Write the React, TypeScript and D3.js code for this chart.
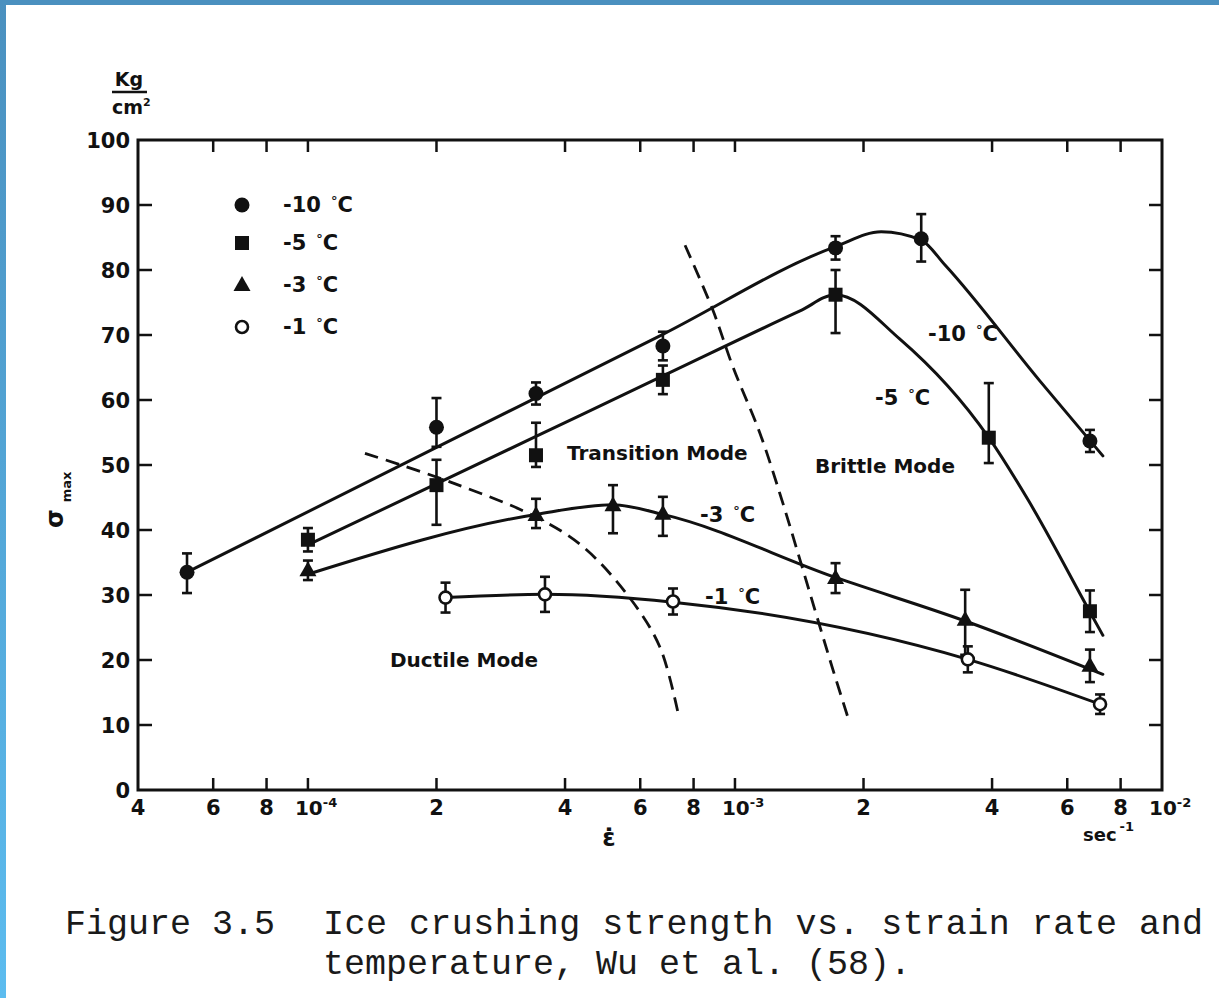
import React from "react";
import * as d3 from "d3";

const WIDTH = 1219;
const HEIGHT = 998;

// Axis ticks
const rateTicks = [4e-5, 6e-5, 8e-5, 1e-4, 2e-4, 4e-4, 6e-4, 8e-4, 1e-3, 2e-3, 4e-3, 6e-3, 8e-3, 1e-2];
const rateTickMantissa = ["4", "6", "8", "10", "2", "4", "6", "8", "10", "2", "4", "6", "8", "10"];
const rateTickExponent = ["", "", "", "-4", "", "", "", "", "-3", "", "", "", "", "-2"];
const stressTicks = [0, 10, 20, 30, 40, 50, 60, 70, 80, 90, 100];

// Measured peak stress (kg/cm²) vs strain rate (1/s), with error bars
const tempLabels = ["-10", "-5", "-3", "-1"];

const rateM10 = [5.21e-5, 2.0e-4, 3.42e-4, 6.78e-4, 1.72e-3, 2.73e-3, 6.78e-3];
const stressM10 = [33.5, 55.8, 61, 68.3, 83.4, 84.8, 53.7];
const errHiM10 = [2.9, 4.5, 1.7, 2.2, 1.8, 3.8, 1.7];
const errLoM10 = [3.2, 3.0, 1.7, 2.2, 1.8, 3.5, 1.7];

const rateM5 = [1e-4, 2e-4, 3.42e-4, 6.78e-4, 1.72e-3, 3.93e-3, 6.78e-3];
const stressM5 = [38.5, 46.9, 51.5, 63.1, 76.2, 54.2, 27.5];
const errHiM5 = [1.8, 3.9, 5.0, 2.2, 3.8, 8.4, 3.2];
const errLoM5 = [1.8, 6.1, 1.8, 2.2, 5.9, 3.9, 3.2];

const rateM3 = [1e-4, 3.42e-4, 5.18e-4, 6.78e-4, 1.72e-3, 3.46e-3, 6.78e-3];
const stressM3 = [33.8, 42.3, 43.8, 42.5, 32.6, 26.2, 19.1];
const errHiM3 = [1.5, 2.5, 3.1, 2.6, 2.3, 4.6, 2.5];
const errLoM3 = [1.5, 2.0, 4.3, 3.4, 2.3, 5.4, 2.5];

const rateM1 = [2.1e-4, 3.59e-4, 7.16e-4, 3.51e-3, 7.16e-3];
const stressM1 = [29.6, 30.1, 29.0, 20.1, 13.2];
const errHiM1 = [2.3, 2.7, 2.0, 2.0, 1.5];
const errLoM1 = [2.3, 2.7, 2.0, 2.0, 1.5];

// Faired curves through each temperature's data
const fitRateM10 = [5.21e-5, 2e-4, 6.78e-4, 1.72e-3, 2.2e-3, 2.73e-3, 3.1e-3, 5.18e-3, 7.27e-3];
const fitStressM10 = [33.5, 52.7, 70.1, 83.6, 85.9, 84.6, 80.8, 62.9, 51.4];

const fitRateM5 = [1e-4, 3.42e-4, 6.78e-4, 1.42e-3, 1.72e-3, 2.43e-3, 3.93e-3, 4.86e-3, 6.78e-3, 7.27e-3];
const fitStressM5 = [37.7, 54.4, 63.7, 73.7, 76.2, 69.4, 54.2, 44.6, 27.4, 23.8];

const fitRateM3 = [1e-4, 3.42e-4, 5.18e-4, 6.78e-4, 1.72e-3, 3.46e-3, 7.27e-3];
const fitStressM3 = [33.2, 42.4, 43.9, 42.4, 32.7, 26.0, 17.8];

const fitRateM1 = [2.1e-4, 3.59e-4, 7.16e-4, 3.51e-3, 7.16e-3];
const fitStressM1 = [29.6, 30.1, 28.9, 20.1, 13.2];

// Failure-mode boundaries
const ductileRate = [1.36e-4, 2.15e-4, 3.42e-4, 4.41e-4, 5.68e-4, 6.67e-4, 7.36e-4];
const ductileStress = [51.8, 47.4, 42, 37.4, 29.5, 22, 11.8];
const brittleRate = [7.64e-4, 8.88e-4, 9.89e-4, 1.144e-3, 1.288e-3, 1.42e-3, 1.669e-3, 1.84e-3];
const brittleStress = [83.8, 73.8, 65.1, 54.9, 44.6, 35.4, 20, 11.1];

const INK = "#111";
const LABEL_FONT = "'DejaVu Sans', Verdana, sans-serif";

const x = d3.scaleLog().domain([4e-5, 1e-2]).range([138, 1162]);
const y = d3.scaleLinear().domain([0, 100]).range([790, 140]);

const zip = (a: number[], b: number[]) => a.map((v, i) => [v, b[i]] as [number, number]);

// solid temperature curves: monotone cubic keeps straight runs straight
const fairCurve = d3
  .line<[number, number]>()
  .x((d) => x(d[0]))
  .y((d) => y(d[1]))
  .curve(d3.curveMonotoneX);

// dashed mode boundaries
const boundaryCurve = d3
  .line<[number, number]>()
  .x((d) => x(d[0]))
  .y((d) => y(d[1]))
  .curve(d3.curveCatmullRom.alpha(0.5));

type MarkerKind = "circle" | "square" | "triangle" | "open";

function Marker({ kind, cx, cy }: { kind: MarkerKind; cx: number; cy: number }) {
  if (kind === "circle") return <circle cx={cx} cy={cy} r={7.5} fill={INK} />;
  if (kind === "square") return <rect x={cx - 7} y={cy - 7} width={14} height={14} fill={INK} />;
  if (kind === "triangle") {
    const p = d3.path();
    p.moveTo(cx, cy - 9);
    p.lineTo(cx + 8.5, cy + 6);
    p.lineTo(cx - 8.5, cy + 6);
    p.closePath();
    return <path d={p.toString()} fill={INK} />;
  }
  return <circle cx={cx} cy={cy} r={6} fill="#fff" stroke={INK} strokeWidth={2.6} />;
}

function Series({
  rate, stress, hi, lo, kind,
}: { rate: number[]; stress: number[]; hi: number[]; lo: number[]; kind: MarkerKind }) {
  return (
    <g>
      {rate.map((r, i) => {
        const cx = x(r);
        const top = y(stress[i] + hi[i]);
        const bot = y(stress[i] - lo[i]);
        return (
          <g key={i}>
            <line x1={cx} x2={cx} y1={top} y2={bot} stroke={INK} strokeWidth={2.6} />
            <line x1={cx - 5} x2={cx + 5} y1={top} y2={top} stroke={INK} strokeWidth={2.6} />
            <line x1={cx - 5} x2={cx + 5} y1={bot} y2={bot} stroke={INK} strokeWidth={2.6} />
            <Marker kind={kind} cx={cx} cy={y(stress[i])} />
          </g>
        );
      })}
    </g>
  );
}

function TempLabel({ x0, y0, t }: { x0: number; y0: number; t: string }) {
  return (
    <text x={x0} y={y0} fontFamily={LABEL_FONT} fontWeight="bold" fontSize={21} fill={INK}>
      {t}
      <tspan dx={10} dy={-7} fontSize={13}>°</tspan>
      <tspan dy={7}>C</tspan>
    </text>
  );
}

export default function App() {
  const legendKinds: MarkerKind[] = ["circle", "square", "triangle", "open"];
  const legendY = [205, 243, 285, 327];
  const left = x.range()[0];
  const right = x.range()[1];
  const top = y.range()[1];
  const bottom = y.range()[0];

  return (
    <>
      <style>{`body{margin:0;background:#fff}`}</style>
      <svg width={WIDTH} height={HEIGHT} viewBox={`0 0 ${WIDTH} ${HEIGHT}`} style={{ display: "block" }}>
        <defs>
          <linearGradient id="edgeBlue" x1="0" y1="0" x2="0" y2="1">
            <stop offset="0" stopColor="#4a90bf" />
            <stop offset="1" stopColor="#5cbcef" />
          </linearGradient>
        </defs>
        <rect x={0} y={0} width={WIDTH} height={HEIGHT} fill="#fff" />
        <rect x={0} y={0} width={WIDTH} height={5} fill="#4a90bf" />
        <rect x={0} y={0} width={6} height={HEIGHT} fill="url(#edgeBlue)" />

        {/* frame */}
        <rect x={left} y={top} width={right - left} height={bottom - top} fill="none" stroke={INK} strokeWidth={3} />

        {/* strain-rate ticks, bottom and top, pointing inward */}
        {rateTicks.slice(1, -1).map((t, i) => (
          <g key={i}>
            <line x1={x(t)} x2={x(t)} y1={bottom} y2={bottom - 12} stroke={INK} strokeWidth={2.5} />
            <line x1={x(t)} x2={x(t)} y1={top} y2={top + 12} stroke={INK} strokeWidth={2.5} />
          </g>
        ))}
        {rateTicks.map((t, i) =>
          rateTickExponent[i] ? (
            <text key={i} x={x(t) - 13} y={815} fontFamily={LABEL_FONT} fontWeight="bold" fontSize={20} fill={INK}>
              {rateTickMantissa[i]}
              <tspan dy={-8} fontSize={13}>{rateTickExponent[i]}</tspan>
            </text>
          ) : (
            <text key={i} x={x(t)} y={815} textAnchor="middle" fontFamily={LABEL_FONT} fontWeight="bold" fontSize={21} fill={INK}>
              {rateTickMantissa[i]}
            </text>
          )
        )}

        {/* stress ticks, left and right, pointing inward */}
        {stressTicks.slice(1, -1).map((s) => (
          <g key={s}>
            <line x1={left} x2={left + 14} y1={y(s)} y2={y(s)} stroke={INK} strokeWidth={2.5} />
            <line x1={right} x2={right - 13} y1={y(s)} y2={y(s)} stroke={INK} strokeWidth={2.5} />
          </g>
        ))}
        {stressTicks.map((s) => (
          <text key={s} x={130} y={y(s) + 7.5} textAnchor="end" fontFamily={LABEL_FONT} fontWeight="bold" fontSize={21} fill={INK}>
            {s}
          </text>
        ))}

        {/* unit and axis titles */}
        <text x={129} y={86} textAnchor="middle" fontFamily={LABEL_FONT} fontWeight="bold" fontSize={19} fill={INK}>Kg</text>
        <line x1={112} x2={147} y1={92} y2={92} stroke={INK} strokeWidth={2.5} />
        <text x={112} y={114} fontFamily={LABEL_FONT} fontWeight="bold" fontSize={19} fill={INK}>
          cm<tspan dy={-8} fontSize={11}>2</tspan>
        </text>
        <text transform="translate(63,528) rotate(-90)" fontFamily={LABEL_FONT} fontWeight="bold" fontSize={24} fill={INK}>
          σ<tspan dx={7} dy={8} fontSize={13}>max</tspan>
        </text>
        <text x={609} y={846} textAnchor="middle" fontFamily={LABEL_FONT} fontWeight="bold" fontSize={24} fill={INK}>ε̇</text>
        <text x={1083} y={841} fontFamily={LABEL_FONT} fontWeight="bold" fontSize={18} fill={INK}>
          sec<tspan dx={3} dy={-10} fontSize={13}>-1</tspan>
        </text>

        {/* mode boundaries */}
        <path d={boundaryCurve(zip(ductileRate, ductileStress)) ?? ""} fill="none" stroke={INK} strokeWidth={2.8} strokeDasharray="14 8" />
        <path d={boundaryCurve(zip(brittleRate, brittleStress)) ?? ""} fill="none" stroke={INK} strokeWidth={2.8} strokeDasharray="14 8" />

        {/* faired curves */}
        {[
          zip(fitRateM10, fitStressM10),
          zip(fitRateM5, fitStressM5),
          zip(fitRateM3, fitStressM3),
          zip(fitRateM1, fitStressM1),
        ].map((pts, i) => (
          <path key={i} d={fairCurve(pts) ?? ""} fill="none" stroke={INK} strokeWidth={3} strokeLinecap="round" />
        ))}

        {/* data */}
        <Series rate={rateM10} stress={stressM10} hi={errHiM10} lo={errLoM10} kind="circle" />
        <Series rate={rateM5} stress={stressM5} hi={errHiM5} lo={errLoM5} kind="square" />
        <Series rate={rateM3} stress={stressM3} hi={errHiM3} lo={errLoM3} kind="triangle" />
        <Series rate={rateM1} stress={stressM1} hi={errHiM1} lo={errLoM1} kind="open" />

        {/* legend */}
        {tempLabels.map((t, i) => (
          <g key={t}>
            <Marker kind={legendKinds[i]} cx={242} cy={legendY[i]} />
            <TempLabel x0={283} y0={legendY[i] + 7} t={t} />
          </g>
        ))}

        {/* curve labels */}
        <TempLabel x0={928} y0={341} t="-10" />
        <TempLabel x0={875} y0={405} t="-5" />
        <TempLabel x0={700} y0={522} t="-3" />
        <TempLabel x0={705} y0={604} t="-1" />

        {/* mode regions */}
        <text x={567} y={460} fontFamily={LABEL_FONT} fontWeight="bold" fontSize={20} fill={INK}>Transition Mode</text>
        <text x={815} y={473} fontFamily={LABEL_FONT} fontWeight="bold" fontSize={20} fill={INK}>Brittle Mode</text>
        <text x={390} y={667} fontFamily={LABEL_FONT} fontWeight="bold" fontSize={20} fill={INK}>Ductile Mode</text>

        {/* caption */}
        <g fontFamily="'Liberation Mono', 'Courier New', monospace" fontSize={35} fill="#1a1a1a">
          <text x={65} y={934}>Figure 3.5</text>
          <text x={323} y={934} textLength={880} lengthAdjust="spacing">Ice crushing strength vs. strain rate and</text>
          <text x={323} y={974}>temperature, Wu et al. (58).</text>
        </g>
      </svg>
    </>
  );
}
